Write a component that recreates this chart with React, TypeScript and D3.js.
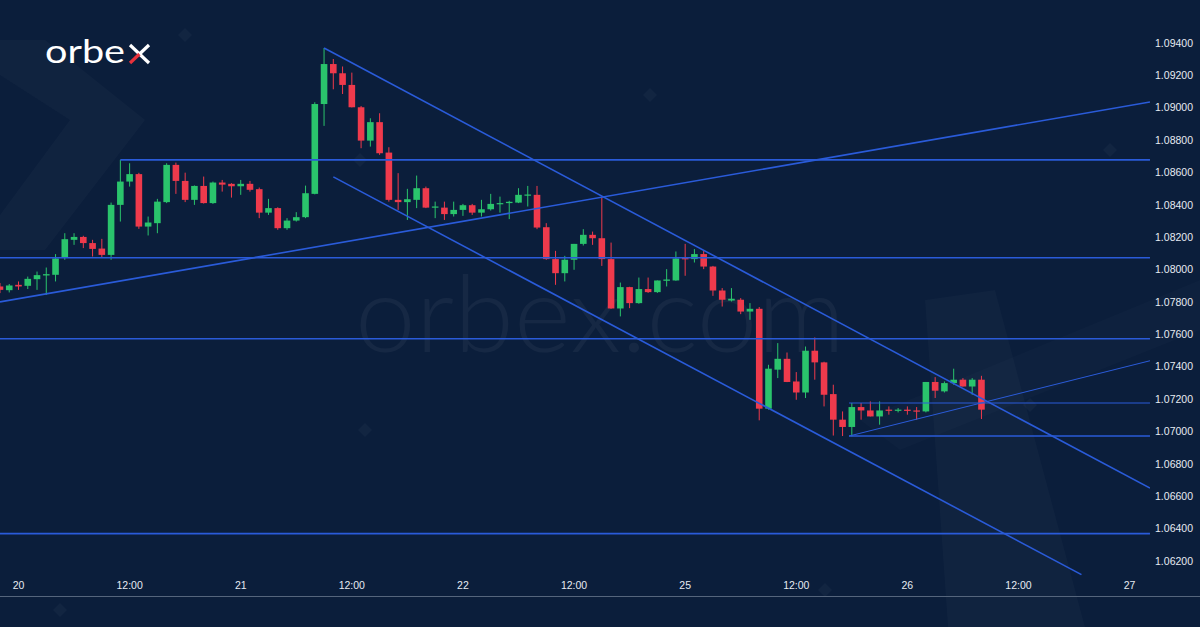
import React from "react";
import * as d3 from "d3";

// Hourly candles, first candle index = -2 (index 0 = day 20 00:00)
const FIRST_INDEX = -2;
const opens = [1.07896,1.07873,1.07906,1.07900,1.07941,1.07964,1.07968,1.08073,1.08184,1.08202,1.08164,1.08130,1.08091,1.08400,1.08544,1.08590,1.08266,1.08287,1.08417,1.08647,1.08548,1.08431,1.08517,1.08411,1.08538,1.08530,1.08515,1.08530,1.08497,1.08352,1.08380,1.08256,1.08303,1.08324,1.08468,1.09023,1.09270,1.09213,1.09141,1.09003,1.08797,1.08911,1.08723,1.08431,1.08417,1.08431,1.08503,1.08383,1.08383,1.08343,1.08369,1.08398,1.08352,1.08373,1.08404,1.08411,1.08414,1.08457,1.08462,1.08262,1.08065,1.07978,1.08061,1.08159,1.08215,1.08194,1.08065,1.07760,1.07892,1.07793,1.07880,1.07861,1.07931,1.07933,1.08071,1.08065,1.08096,1.08019,1.07871,1.07809,1.07814,1.07741,1.07758,1.07141,1.07382,1.07449,1.07309,1.07241,1.07499,1.07427,1.07231,1.07073,1.07028,1.07151,1.07130,1.07093,1.07135,1.07128,1.07135,1.07130,1.07124,1.07306,1.07248,1.07299,1.07320,1.07278,1.07320];
const highs = [1.07917,1.07911,1.07927,1.07957,1.07988,1.08013,1.08096,1.08225,1.08225,1.08209,1.08184,1.08190,1.08414,1.08678,1.08657,1.08598,1.08328,1.08437,1.08657,1.08661,1.08599,1.08520,1.08575,1.08544,1.08554,1.08534,1.08554,1.08548,1.08507,1.08437,1.08385,1.08318,1.08355,1.08519,1.09034,1.09369,1.09301,1.09255,1.09217,1.09011,1.08935,1.08966,1.08756,1.08596,1.08499,1.08581,1.08513,1.08420,1.08420,1.08420,1.08406,1.08406,1.08431,1.08468,1.08451,1.08425,1.08503,1.08517,1.08517,1.08287,1.08116,1.08085,1.08159,1.08250,1.08235,1.08451,1.08167,1.07920,1.07894,1.07951,1.07951,1.07933,1.08003,1.08112,1.08159,1.08127,1.08116,1.08023,1.07886,1.07886,1.07824,1.07793,1.07769,1.07412,1.07546,1.07488,1.07367,1.07525,1.07581,1.07431,1.07289,1.07124,1.07176,1.07176,1.07186,1.07186,1.07155,1.07145,1.07155,1.07151,1.07306,1.07336,1.07309,1.07388,1.07330,1.07330,1.07344];
const lows = [1.07855,1.07859,1.07875,1.07880,1.07875,1.07844,1.07927,1.08061,1.08153,1.08133,1.08081,1.08077,1.08061,1.08297,1.08513,1.08252,1.08211,1.08225,1.08411,1.08468,1.08417,1.08400,1.08408,1.08406,1.08482,1.08445,1.08462,1.08482,1.08318,1.08338,1.08246,1.08246,1.08297,1.08318,1.08465,1.08888,1.09114,1.09085,1.09002,1.08750,1.08760,1.08709,1.08420,1.08369,1.08307,1.08380,1.08380,1.08318,1.08307,1.08328,1.08332,1.08338,1.08328,1.08365,1.08352,1.08312,1.08411,1.08390,1.08250,1.08061,1.07906,1.07927,1.07999,1.08149,1.08153,1.08023,1.07758,1.07711,1.07762,1.07789,1.07856,1.07856,1.07896,1.07931,1.07962,1.08044,1.08003,1.07838,1.07772,1.07803,1.07725,1.07690,1.07069,1.07135,1.07330,1.07305,1.07196,1.07207,1.07320,1.07155,1.06975,1.06972,1.06970,1.07073,1.07093,1.07042,1.07104,1.07118,1.07104,1.07073,1.07118,1.07207,1.07241,1.07289,1.07278,1.07227,1.07077];
const closes = [1.07875,1.07902,1.07896,1.07943,1.07966,1.07972,1.08069,1.08188,1.08202,1.08164,1.08128,1.08091,1.08400,1.08544,1.08590,1.08266,1.08291,1.08420,1.08647,1.08548,1.08431,1.08517,1.08411,1.08538,1.08525,1.08515,1.08530,1.08493,1.08352,1.08380,1.08256,1.08303,1.08324,1.08472,1.09023,1.09270,1.09213,1.09141,1.09003,1.08797,1.08911,1.08719,1.08431,1.08417,1.08435,1.08503,1.08383,1.08390,1.08343,1.08369,1.08398,1.08352,1.08373,1.08406,1.08411,1.08419,1.08462,1.08464,1.08260,1.08065,1.07978,1.08061,1.08159,1.08215,1.08194,1.08065,1.07760,1.07892,1.07793,1.07880,1.07861,1.07933,1.07939,1.08069,1.08065,1.08096,1.08019,1.07871,1.07814,1.07820,1.07741,1.07758,1.07141,1.07388,1.07449,1.07306,1.07241,1.07499,1.07427,1.07227,1.07073,1.07028,1.07151,1.07130,1.07093,1.07130,1.07128,1.07135,1.07127,1.07124,1.07306,1.07252,1.07299,1.07320,1.07278,1.07320,1.07135];

const priceTicks = [1.062,1.064,1.066,1.068,1.07,1.072,1.074,1.076,1.078,1.08,1.082,1.084,1.086,1.088,1.09,1.092,1.094];
const timeTickIndex = [0,12,24,36,48,60,72,84,96,108,120];
const timeTickLabels = ["20","12:00","21","12:00","22","12:00","25","12:00","26","12:00","27"];

// Drawn analysis lines: [startIndex, startPrice, endIndex, endPrice]
const mainLines = [
  [33, 1.09369, 122.2, 1.06650],
  [34, 1.08573, 114.8, 1.06116],
  [-2, 1.07801, 122.2, 1.09036],
  [11, 1.08678, 122.2, 1.08678],
  [-2, 1.08073, 122.2, 1.08073],
  [-2, 1.07573, 122.2, 1.07573],
  [-2, 1.06369, 122.2, 1.06369],
  [89.7, 1.06972, 122.2, 1.06972],
];
const thinLines = [
  [89.7, 1.07176, 122.2, 1.07176],
  [89.7, 1.06972, 122.2, 1.07437],
];

const W = 1200, H = 627;
const BG = "#0b1e3b";
const UP = "#2ac46c";
const DOWN = "#ef3a4c";
const LINE = "#2a5bd9";

export default function App() {
  const x = d3.scaleLinear().domain([0, 120]).range([18.5, 1129.6]);
  const y = d3.scaleLinear().domain([1.062, 1.094]).range([561, 43]);
  const bw = 6.6;

  const candles = opens.map((o, i) => ({
    idx: FIRST_INDEX + i, o, h: highs[i], l: lows[i], c: closes[i],
  }));

  return (
    <svg width={W} height={H} style={{ position: "absolute", left: 0, top: 0, display: "block" }}>
      <defs>
        <clipPath id="plot"><rect x={0} y={0} width={1150} height={596} /></clipPath>
      </defs>
      <rect width={W} height={H} fill={BG} />
      {/* faint background decoration */}
      <polygon points="0,40 45,40 145,120 45,250 0,250 0,215 70,120 0,75" fill="#ffffff" opacity={0.025} />
      <polygon points="925,300 995,290 1085,627 948,627" fill="#ffffff" opacity={0.025} />
      <polygon points="860,420 1200,280 1200,330 900,450" fill="#ffffff" opacity={0.015} />
      {[[185, 35], [360, 160], [650, 95], [1110, 150], [365, 430], [1030, 405], [60, 610], [825, 590]].map(([cx, cy], i) => (
        <rect key={i} x={cx - 5} y={cy - 5} width={10} height={10} fill="#ffffff" opacity={0.03}
          transform={`rotate(45 ${cx} ${cy})`} />
      ))}
      {/* watermark */}
      <text x={600} y={352} textAnchor="middle" fontFamily="Lato, 'Open Sans', sans-serif" fontWeight={300}
        fontSize={106} fill="#ffffff" opacity={0.045} textLength={490} lengthAdjust="spacingAndGlyphs">orbex.com</text>

      {/* logo */}
      <text x={45} y={62.5} fontFamily="Lato, 'Open Sans', sans-serif" fontSize={33} fill="#ffffff"
        textLength={80} lengthAdjust="spacingAndGlyphs">orbe</text>
      <g strokeWidth={3.2} strokeLinecap="butt">
        <line x1={130} y1={45} x2={149} y2={63} stroke="#ffffff" />
        <line x1={130} y1={63} x2={139.5} y2={54} stroke="#e8323c" />
        <line x1={139.5} y1={54} x2={149} y2={45} stroke="#ffffff" />
      </g>

      <g clipPath="url(#plot)">
        {candles.map((d) => {
          const up = d.c >= d.o;
          const col = up ? UP : DOWN;
          const cx = x(d.idx);
          const top = y(Math.max(d.o, d.c));
          const bot = y(Math.min(d.o, d.c));
          return (
            <g key={d.idx}>
              <line x1={cx} x2={cx} y1={y(d.h)} y2={y(d.l)} stroke={col} strokeWidth={1} />
              <rect x={cx - bw / 2} y={top} width={bw} height={Math.max(1.2, bot - top)} fill={col} />
            </g>
          );
        })}
        {mainLines.map((l, i) => (
          <line key={"m" + i} x1={x(l[0])} y1={y(l[1])} x2={x(l[2])} y2={y(l[3])} stroke={LINE} strokeWidth={1.6} />
        ))}
        {thinLines.map((l, i) => (
          <line key={"t" + i} x1={x(l[0])} y1={y(l[1])} x2={x(l[2])} y2={y(l[3])} stroke={LINE} strokeWidth={1} />
        ))}
      </g>

      {/* price axis labels */}
      {priceTicks.map((p) => (
        <text key={p} x={1193} y={y(p)} dy="0.35em" textAnchor="end" fontFamily="'Liberation Sans', Arial, sans-serif"
          fontSize={10.5} fill="#e6ebf2">{d3.format(".5f")(p)}</text>
      ))}
      {/* time axis labels */}
      {timeTickIndex.map((t, i) => (
        <text key={t} x={x(t)} y={585} dy="0.35em" textAnchor="middle" fontFamily="'Liberation Sans', Arial, sans-serif"
          fontSize={10.5} fill="#e6ebf2">{timeTickLabels[i]}</text>
      ))}
      <line x1={0} x2={W} y1={596.5} y2={596.5} stroke="#55657c" strokeWidth={1} />
    </svg>
  );
}
